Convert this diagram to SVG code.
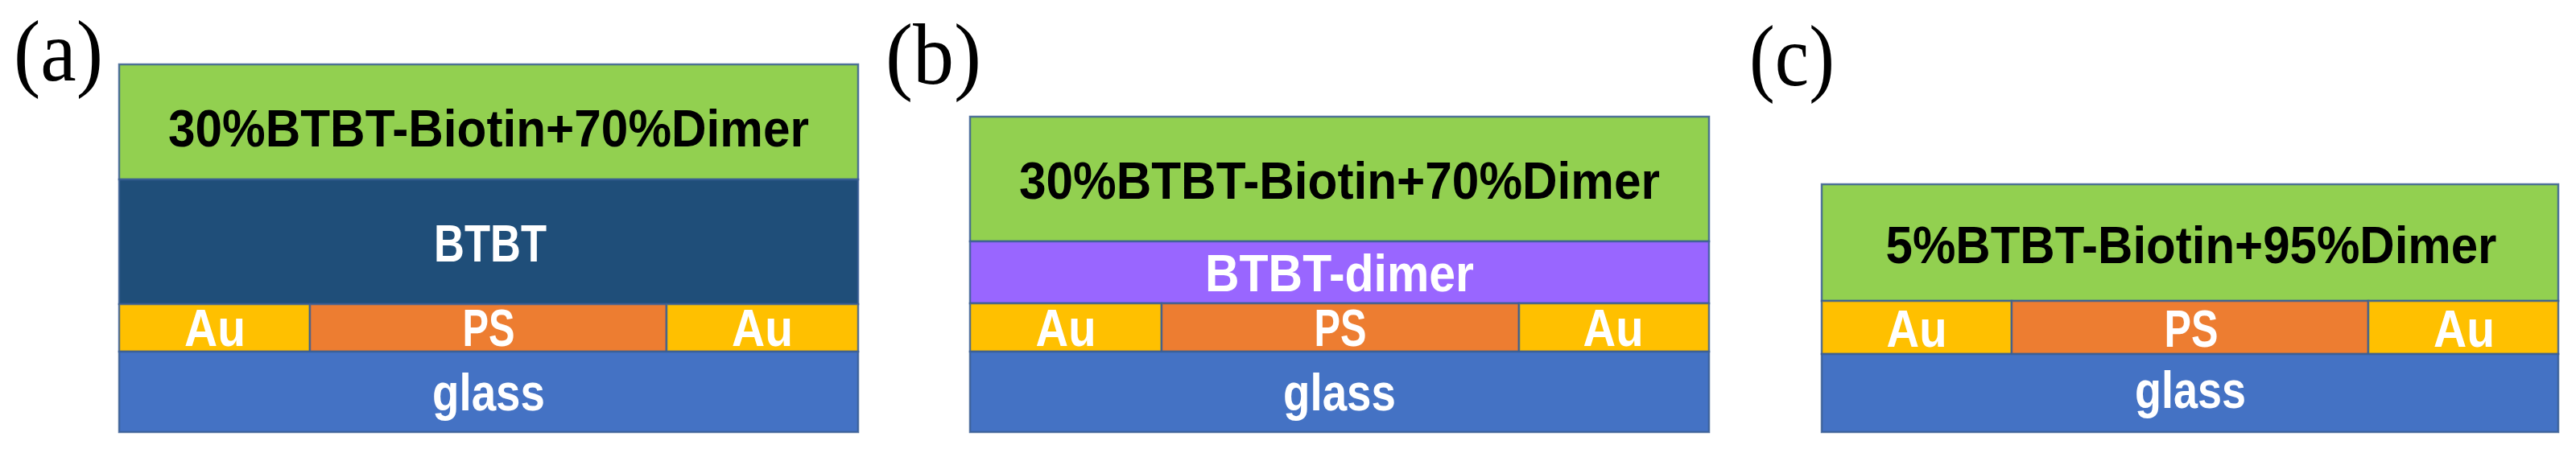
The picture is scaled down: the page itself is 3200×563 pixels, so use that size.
<svg xmlns="http://www.w3.org/2000/svg" width="3200" height="563" viewBox="0 0 3200 563">
<style>
.l{stroke:#3A5E94;stroke-width:2.5;stroke-opacity:0.85}
.green{fill:#92D050}.navy{fill:#1F4E79}.au{fill:#FFC000}.ps{fill:#ED7D31}.glass{fill:#4472C4}.purple{fill:#9966FF}
.t{font-family:"Liberation Sans",Arial,sans-serif;font-weight:bold;font-size:65px;text-anchor:middle}
.k{fill:#000}.w{fill:#fff}
.lab{font-family:"Liberation Serif","Times New Roman",serif;font-size:108px;fill:#000}
</style>
<rect width="3200" height="563" fill="#fff"/>

<g id="panel-a">
  <text class="lab" x="17" y="100" textLength="111" lengthAdjust="spacingAndGlyphs">(a)</text>
  <g id="a-top"><rect class="l green" x="148" y="80" width="918" height="143"/>
    <text class="t k" x="607" y="182" textLength="796" lengthAdjust="spacingAndGlyphs">30%BTBT-Biotin+70%Dimer</text></g>
  <g id="a-btbt"><rect class="l navy" x="148" y="223" width="918" height="155"/>
    <text class="t w" x="609" y="325" textLength="140" lengthAdjust="spacingAndGlyphs">BTBT</text></g>
  <g id="a-au1"><rect class="l au" x="148" y="378" width="237" height="59"/>
    <text class="t w" x="267" y="430" textLength="76" lengthAdjust="spacingAndGlyphs">Au</text></g>
  <g id="a-ps"><rect class="l ps" x="385" y="378" width="443" height="59"/>
    <text class="t w" x="607" y="430" textLength="65" lengthAdjust="spacingAndGlyphs">PS</text></g>
  <g id="a-au2"><rect class="l au" x="828" y="378" width="238" height="59"/>
    <text class="t w" x="947" y="430" textLength="76" lengthAdjust="spacingAndGlyphs">Au</text></g>
  <g id="a-glass"><rect class="l glass" x="148" y="437" width="918" height="100"/>
    <text class="t w" x="607" y="510" textLength="140" lengthAdjust="spacingAndGlyphs">glass</text></g>
</g>

<g id="panel-b">
  <text class="lab" x="1100" y="104" textLength="119" lengthAdjust="spacingAndGlyphs">(b)</text>
  <g id="b-top"><rect class="l green" x="1205" y="145" width="918" height="155"/>
    <text class="t k" x="1664" y="247" textLength="796" lengthAdjust="spacingAndGlyphs">30%BTBT-Biotin+70%Dimer</text></g>
  <g id="b-dimer"><rect class="l purple" x="1205" y="300" width="918" height="77"/>
    <text class="t w" x="1664" y="362" textLength="334" lengthAdjust="spacingAndGlyphs">BTBT-dimer</text></g>
  <g id="b-au1"><rect class="l au" x="1205" y="377" width="238" height="60"/>
    <text class="t w" x="1324" y="430" textLength="75" lengthAdjust="spacingAndGlyphs">Au</text></g>
  <g id="b-ps"><rect class="l ps" x="1443" y="377" width="444" height="60"/>
    <text class="t w" x="1665" y="430" textLength="65" lengthAdjust="spacingAndGlyphs">PS</text></g>
  <g id="b-au2"><rect class="l au" x="1887" y="377" width="236" height="60"/>
    <text class="t w" x="2004" y="430" textLength="75" lengthAdjust="spacingAndGlyphs">Au</text></g>
  <g id="b-glass"><rect class="l glass" x="1205" y="437" width="918" height="100"/>
    <text class="t w" x="1664" y="510" textLength="140" lengthAdjust="spacingAndGlyphs">glass</text></g>
</g>

<g id="panel-c">
  <text class="lab" x="2173" y="106" textLength="106" lengthAdjust="spacingAndGlyphs">(c)</text>
  <g id="c-top"><rect class="l green" x="2263" y="229" width="915" height="145"/>
    <text class="t k" x="2722" y="327" textLength="759" lengthAdjust="spacingAndGlyphs">5%BTBT-Biotin+95%Dimer</text></g>
  <g id="c-au1"><rect class="l au" x="2263" y="374" width="236" height="66"/>
    <text class="t w" x="2381" y="431" textLength="75" lengthAdjust="spacingAndGlyphs">Au</text></g>
  <g id="c-ps"><rect class="l ps" x="2499" y="374" width="443" height="66"/>
    <text class="t w" x="2722" y="431" textLength="67" lengthAdjust="spacingAndGlyphs">PS</text></g>
  <g id="c-au2"><rect class="l au" x="2942" y="374" width="236" height="66"/>
    <text class="t w" x="3061" y="431" textLength="76" lengthAdjust="spacingAndGlyphs">Au</text></g>
  <g id="c-glass"><rect class="l glass" x="2263" y="440" width="915" height="97"/>
    <text class="t w" x="2721" y="507" textLength="138" lengthAdjust="spacingAndGlyphs">glass</text></g>
</g>
</svg>
